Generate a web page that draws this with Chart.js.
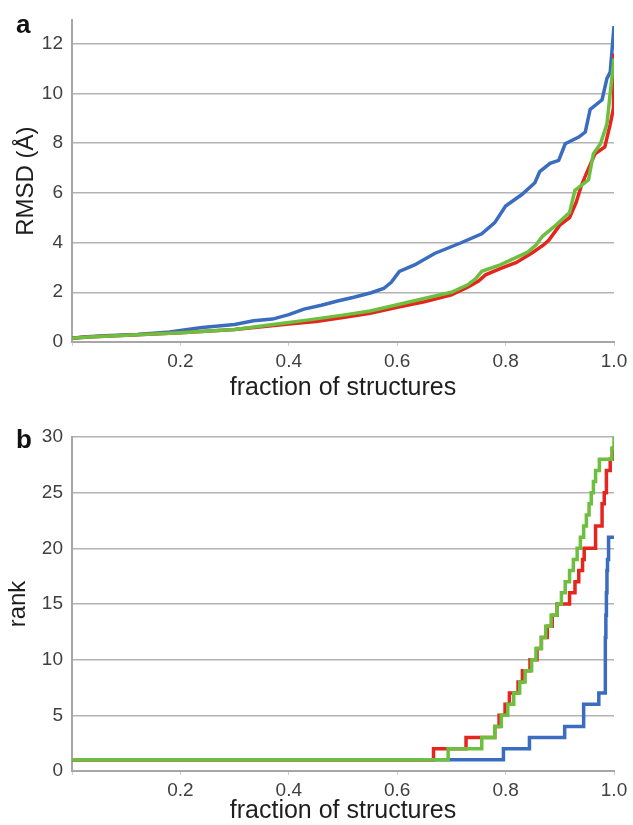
<!DOCTYPE html>
<html>
<head>
<meta charset="utf-8">
<script src="https://cdn.jsdelivr.net/npm/chart.js@4.4.1/dist/chart.umd.min.js"></script>
<style>
  html, body { margin: 0; padding: 0; background: #ffffff; width: 633px; height: 825px; overflow: hidden; }
  #wrap { position: relative; width: 633px; height: 825px; }
  canvas { position: absolute; left: 0; }
  #c1 { top: 0; }
  #c2 { top: 410px; }
  .panel { position: absolute; font-family: "Liberation Sans", Arial, sans-serif; font-weight: bold; font-size: 26px; line-height: 1; color: #111; left: 16px; }
</style>
</head>
<body>
<div id="wrap">
  <canvas id="c1" width="633" height="410"></canvas>
  <canvas id="c2" width="633" height="415"></canvas>
  <div class="panel" style="top:11px;">a</div>
  <div class="panel" style="top:426px;">b</div>
</div>
<script>
// ---------- Panel a: RMSD vs fraction of structures ----------
const rmsdBlueX = [0,0.02,0.06,0.12,0.18,0.24,0.3,0.335,0.37,0.4,0.428,0.46,0.49,0.52,0.552,0.575,0.589,0.604,0.632,0.669,0.719,0.756,0.78,0.8,0.83,0.854,0.863,0.882,0.898,0.91,0.935,0.947,0.956,0.978,0.987,0.993,1.0];
const rmsdBlueY = [0.15,0.2,0.25,0.3,0.4,0.58,0.7,0.85,0.92,1.1,1.32,1.48,1.65,1.8,1.98,2.15,2.4,2.84,3.1,3.56,4.0,4.35,4.8,5.47,5.93,6.4,6.85,7.18,7.3,7.97,8.24,8.44,9.35,9.74,10.6,10.85,12.7];

const rmsdRedX = [0,0.03,0.1,0.2,0.3,0.4,0.45,0.5,0.55,0.6,0.65,0.7,0.73,0.75,0.763,0.79,0.82,0.85,0.87,0.88,0.9,0.918,0.93,0.94,0.947,0.965,0.983,0.993,0.999,1.0];
const rmsdRedY = [0.15,0.2,0.27,0.37,0.5,0.72,0.82,0.98,1.15,1.4,1.62,1.9,2.2,2.45,2.7,2.95,3.2,3.6,3.9,4.1,4.7,5.0,5.6,6.3,6.67,7.57,7.84,8.75,9.4,11.6];

const rmsdGreenX = [0,0.03,0.1,0.2,0.3,0.4,0.43,0.5,0.55,0.6,0.65,0.7,0.73,0.745,0.756,0.79,0.817,0.84,0.856,0.868,0.893,0.918,0.928,0.953,0.962,0.975,0.987,0.992,1.0];
const rmsdGreenY = [0.15,0.2,0.27,0.37,0.5,0.78,0.87,1.08,1.25,1.5,1.75,2.0,2.3,2.55,2.84,3.1,3.37,3.6,3.9,4.25,4.7,5.2,6.1,6.52,7.57,7.97,8.76,9.8,11.4];

const rmsdTicks = [0,2,4,6,8,10,12];

// ---------- Panel b: rank vs fraction of structures (step lines) ----------
const rankBlueX = [0,0.796,0.844,0.909,0.944,0.972,0.984,0.985,0.986,0.987,0.988,0.99,1.0];
const rankBlueY = [1,2,3,4,6,7,12,14,16,18,19,21,21];

const rankRedX = [0,0.667,0.727,0.78,0.788,0.799,0.807,0.823,0.831,0.845,0.858,0.866,0.877,0.886,0.895,0.918,0.928,0.935,0.942,0.945,0.966,0.978,0.982,0.986,0.993,0.998,1.0];
const rankRedY = [1,2,3,4,5,6,7,8,9,10,11,12,13,14,15,16,17,18,19,20,22,24,25,27,28,29,29];

const rankGreenX = [0,0.694,0.756,0.78,0.792,0.804,0.815,0.826,0.836,0.848,0.856,0.866,0.874,0.884,0.895,0.903,0.91,0.918,0.925,0.932,0.938,0.944,0.949,0.954,0.958,0.962,0.966,0.973,0.996,1.0];
const rankGreenY = [1,2,3,4,5,6,7,8,9,10,11,12,13,14,15,16,17,18,19,20,21,22,23,24,25,26,27,28,29,30];

const rankTicks = [0,5,10,15,20,25,30];
const fractionTicks = [0.2,0.4,0.6,0.8,1.0];

const BLUE = '#3a6cc0', RED = '#e4261f', GREEN = '#6cbf3f';
const FONT = '"Liberation Sans", Arial, sans-serif';

function pts(xs, ys) { return xs.map((x, i) => ({ x: x, y: ys[i] })); }

function makeChart(id, cfg) {
  const ds = (xs, ys, color, order) => ({
    data: pts(xs, ys), borderColor: color, borderWidth: 3.5, pointRadius: 0, order: order,
    tension: 0, fill: false, stepped: cfg.stepped ? 'before' : false
  });
  return new Chart(document.getElementById(id), {
    type: 'line',
    // lower "order" is drawn on top: green over red over blue
    data: { datasets: [ds(cfg.bx, cfg.by, BLUE, 3), ds(cfg.rx, cfg.ry, RED, 2), ds(cfg.gx, cfg.gy, GREEN, 1)] },
    options: {
      responsive: false, animation: false, devicePixelRatio: 1,
      parsing: false, normalized: true,
      layout: { padding: { top: cfg.padTop, right: 19, left: 0, bottom: 0 } },
      plugins: { legend: { display: false }, tooltip: { enabled: false } },
      scales: {
        x: {
          type: 'linear', min: 0, max: 1,
          afterBuildTicks: s => { s.ticks = [0].concat(fractionTicks).map(v => ({ value: v })); },
          afterFit: s => { s.height = cfg.xHeight; },
          ticks: { font: { family: FONT, size: 19 }, color: '#404040', padding: 4, maxRotation: 0,
                   callback: v => (Math.abs(v) < 1e-9 ? '' : v.toFixed(1)) },
          grid: { drawOnChartArea: false, drawTicks: true, tickLength: 4, color: '#cfcfcf', lineWidth: 1 },
          border: { color: '#a6a6a6', width: 2 },
          title: { display: true, text: 'fraction of structures', color: '#1e1e1e',
                   font: { family: FONT, size: 25, lineHeight: 1 }, padding: { top: 0, bottom: cfg.xTitlePad } }
        },
        y: {
          type: 'linear', min: 0, max: cfg.yMax,
          afterBuildTicks: s => { s.ticks = cfg.yTicks.map(v => ({ value: v })); },
          afterFit: s => { s.width = 72; },
          ticks: { font: { family: FONT, size: 19 }, color: '#404040', padding: 9 },
          grid: { drawTicks: false, color: '#b3b3b3', lineWidth: 1.5 },
          border: { color: '#a6a6a6', width: 2 },
          title: { display: true, text: cfg.yTitle, color: '#1e1e1e',
                   font: { family: FONT, size: 24, lineHeight: 1 }, padding: { top: cfg.yTitlePad, bottom: 0 } }
        }
      }
    }
  });
}

makeChart('c1', {
  bx: rmsdBlueX, by: rmsdBlueY, rx: rmsdRedX, ry: rmsdRedY, gx: rmsdGreenX, gy: rmsdGreenY,
  stepped: false, padTop: 14, xHeight: 68, xTitlePad: 9, yMax: 12.93, yTicks: rmsdTicks,
  yTitle: 'RMSD (Å)', yTitlePad: 14.5
});
makeChart('c2', {
  bx: rankBlueX, by: rankBlueY, rx: rankRedX, ry: rankRedY, gx: rankGreenX, gy: rankGreenY,
  stepped: true, padTop: 27, xHeight: 54, xTitlePad: 1, yMax: 30, yTicks: rankTicks,
  yTitle: 'rank', yTitlePad: 6.5
});
</script>
</body>
</html>
